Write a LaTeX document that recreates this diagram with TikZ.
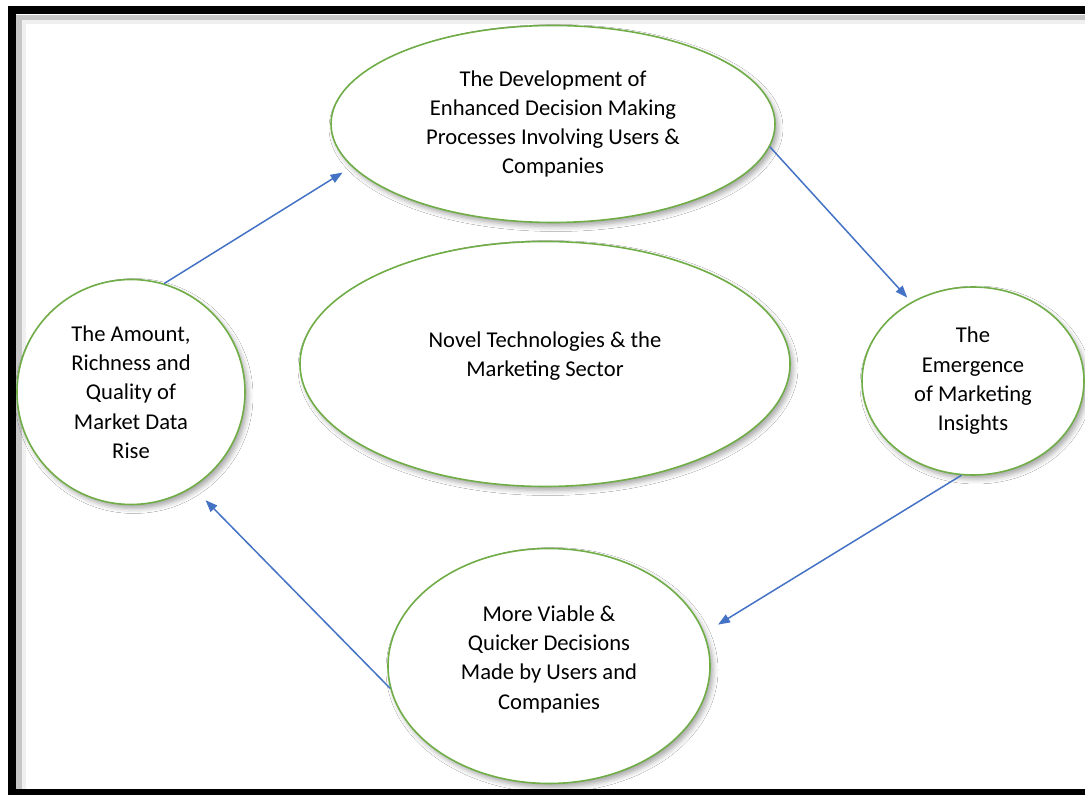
\documentclass[tikz,border=0pt]{standalone}
\usepackage{fontspec}
\setmainfont{Carlito}
\usetikzlibrary{shapes.geometric, arrows.meta, shadows.blur}
\definecolor{leafgreen}{HTML}{70AD47}
\definecolor{arrowblue}{HTML}{4472C4}

\begin{document}
\begin{tikzpicture}[x=1pt, y=1pt,
	bubble/.style={ellipse, draw=leafgreen, line width=1.6pt, fill=white, inner sep=0pt, align=center,
		font=\fontsize{22.6}{29.3}\selectfont,
		blur shadow={shadow xshift=3pt, shadow yshift=-4pt, shadow blur radius=5pt, shadow opacity=35}},
	flow/.style={draw=arrowblue, line width=1.5pt, -{Triangle[length=12pt, width=9pt]}}]
	\useasboundingbox (0,0) rectangle (1085,795);
	\fill[white] (0,0) rectangle (1085,795);
	% frame with its inner shading
	\fill[gray!45] (16,775) rectangle (1085,780);
	\fill[gray!12] (22,771) rectangle (1085,775);
	\fill[gray!45] (16,6) rectangle (22,780);
	\fill[gray!12] (22,6) rectangle (26,775);
	\draw[line width=8pt] (1095,785) -- (12,785) -- (12,2) -- (1095,2);

	% the five stages
	\node[bubble, minimum width=444pt, minimum height=197pt] (dev) at (553,671)
		{The Development of\\Enhanced Decision Making\\Processes Involving Users \&\\Companies};
	\node[bubble, minimum width=490pt, minimum height=245pt, text depth=19pt] (core) at (545,431)
		{Novel Technologies \& the\\Marketing Sector};
	\node[bubble, minimum width=228pt, minimum height=225pt] (amount) at (131,403)
		{The Amount,\\Richness and\\Quality of\\Market Data\\Rise};
	\node[bubble, minimum width=222pt, minimum height=188pt] (insight) at (973,414)
		{The\\Emergence\\of Marketing\\Insights};
	\node[bubble, minimum width=322pt, minimum height=235pt, text depth=17pt] (decide) at (549,129)
		{More Viable \&\\Quicker Decisions\\Made by Users and\\Companies};

	% the cycle
	\draw[flow, shorten >=11pt] (amount.73) -- (dev.192);
	\draw[flow, shorten >=6pt] (dev.354) -- (insight.128);
	\draw[flow, shorten >=16pt] (insight.263) -- (decide.12);
	\draw[flow, shorten >=18pt] (decide.188) -- (amount.303);
\end{tikzpicture}
\end{document}
